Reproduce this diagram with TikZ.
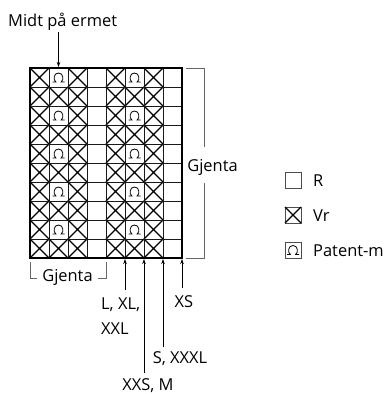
\documentclass[tikz,border=0pt]{standalone}
\usepackage{fontspec}
\setmainfont{Open Sans}
\usetikzlibrary{arrows.meta}
\begin{document}
\begin{tikzpicture}[x=1bp,y=-1bp,
  lbl/.style={font=\fontsize{16.5}{19}\selectfont, inner sep=0pt},
  gridline/.style={line width=0.8bp, black!90},
  border/.style={line width=2.2bp},
  xline/.style={line width=1.2bp},
  brk/.style={line width=0.9bp, black!60},
  arr/.style={line width=0.8bp, -{Stealth[length=5bp,width=3.5bp]}},
  patent/.pic={\draw[line width=0.8bp] (-6,4.5) -- (-2.6,4.5) .. controls (-5.6,2.5) and (-5,-4.5) .. (0,-4.5) .. controls (5,-4.5) and (5.6,2.5) .. (2.6,4.5) -- (6,4.5);}
]
\useasboundingbox (0,0) rectangle (387,394);

% grid marks
\foreach \c in {0,...,7}{
  \foreach \r in {0,...,9}{
    \pgfmathsetmacro{\xa}{30+19*\c}
    \pgfmathsetmacro{\ya}{68+19*\r}
    \pgfmathtruncatemacro{\odd}{mod(\r,2)}
    \ifnum\c=3\relax\else\ifnum\c=7\relax\else
      \ifnum\c=1
        \ifnum\odd=0
          \pic at (\xa+9.5,\ya+9.5) {patent};
        \else
          \draw[xline] (\xa,\ya) -- (\xa+19,\ya+19) (\xa+19,\ya) -- (\xa,\ya+19);
        \fi
      \else\ifnum\c=5
        \ifnum\odd=0
          \pic at (\xa+9.5,\ya+9.5) {patent};
        \else
          \draw[xline] (\xa,\ya) -- (\xa+19,\ya+19) (\xa+19,\ya) -- (\xa,\ya+19);
        \fi
      \else
        \draw[xline] (\xa,\ya) -- (\xa+19,\ya+19) (\xa+19,\ya) -- (\xa,\ya+19);
      \fi\fi
    \fi\fi
  }
}
% grid lines
\foreach \c in {1,...,7}{\draw[gridline] (30+19*\c,68) -- (30+19*\c,258);}
\foreach \r in {1,...,9}{\draw[gridline] (30,68+19*\r) -- (182,68+19*\r);}
\draw[border] (30,68) rectangle (182,258);

% named points on grid
\coordinate (gtop) at (58.5,67);
\coordinate (b1) at (125,259);
\coordinate (b2) at (144,259);
\coordinate (b3) at (163,259);
\coordinate (b4) at (182,259);

% top label
\node[lbl, anchor=base west] (midt) at (8,26) {Midt på ermet};
\coordinate (midtstart) at (58.5,32);
\draw[arr] (midtstart) -- (gtop);

% right bracket
\draw[brk] (186,68) -- (204,68) -- (204,147);
\draw[brk] (204,183) -- (204,258) -- (186,258);
\node[lbl, anchor=base] (gj1) at (212.5,171) {Gjenta};

% bottom bracket
\draw[brk] (30,262) -- (30,278) -- (37,278);
\draw[brk] (106,262) -- (106,278) -- (98,278);
\node[lbl, anchor=base] (gj2) at (67.5,281) {Gjenta};

% size arrows
\coordinate (s1) at (125,290);
\coordinate (s2) at (144,373);
\coordinate (s3) at (163,347);
\coordinate (s4) at (182,288);
\draw[arr] (s1) -- (b1);
\draw[arr] (s2) -- (b2);
\draw[arr] (s3) -- (b3);
\draw[arr] (s4) -- (b4);
\node[lbl, anchor=base west] (l1a) at (101,309) {L, XL,};
\node[lbl, anchor=base west] (l1b) at (101,334) {XXL};
\node[lbl, anchor=base] (l2) at (148,390) {XXS, M};
\node[lbl, anchor=base] (l3) at (180,363) {S, XXXL};
\node[lbl, anchor=base] (l4) at (184,307) {XS};

% legend
\draw[line width=0.8bp, black!70] (285,172) rectangle (301,188);
\node[lbl, anchor=base west] (lr) at (313,186) {R};
\draw[line width=0.8bp, black!70] (285,207) rectangle (301,223);
\draw[line width=1.2bp] (285,207) -- (301,223) (301,207) -- (285,223);
\node[lbl, anchor=base west] (lv) at (313,221) {Vr};
\draw[line width=0.8bp, black!70] (285,242) rectangle (301,258);
\pic at (293,250) {patent};
\node[lbl, anchor=base west] (lp) at (313,256) {Patent-m};
\end{tikzpicture}
\end{document}
